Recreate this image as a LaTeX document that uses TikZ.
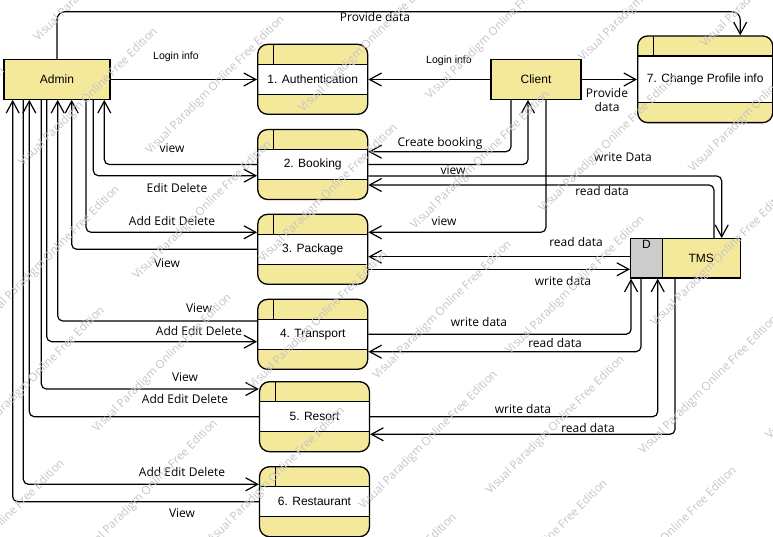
\documentclass[tikz,border=0pt]{standalone}
\usepackage{fontspec}
\setmainfont{Liberation Sans}
\newfontfamily\lblfont{Open Sans}
\usetikzlibrary{positioning,arrows.meta}
\definecolor{vpyellow}{HTML}{F4E99B}
\definecolor{vpgray}{HTML}{CCCCCC}
\definecolor{vpmark}{HTML}{C4C4C4}

\tikzset{
  ent/.style={draw, fill=vpyellow, line width=1.3pt, inner sep=0pt, font=\fontsize{12}{14}\selectfont},
  proc/.style={draw, rounded corners=10pt, fill=vpyellow, line width=1.3pt, inner sep=0pt,
    minimum width=110pt, minimum height=70pt, font=\fontsize{12}{14}\selectfont,
    path picture={
      \fill[white, sharp corners] ([yshift=-20pt]path picture bounding box.north west) rectangle ([yshift=20pt]path picture bounding box.south east);
      \draw[line width=1.3pt, sharp corners] ([yshift=-20pt]path picture bounding box.north west) -- ([yshift=-20pt]path picture bounding box.north east)
        ([yshift=20pt]path picture bounding box.south west) -- ([yshift=20pt]path picture bounding box.south east)
        ([xshift=16pt]path picture bounding box.north west) -- ([xshift=16pt,yshift=-20pt]path picture bounding box.north west);
    }},
  flow/.style={line width=1.2pt, rounded corners=5pt, -{Straight Barb[length=12pt,width=13pt]}},
  lbl/.style={font=\lblfont\fontsize{12}{14}\selectfont, inner sep=1pt},
  smalllbl/.style={font=\fontsize{10.5}{12}\selectfont, inner sep=1pt},
  wmark/.style={rotate=45, anchor=base west, inner sep=0pt, text=vpmark, font=\lblfont\fontsize{11.5}{13}\selectfont}
}

\begin{document}
\begin{tikzpicture}[x=1pt,y=-1pt]
  \useasboundingbox (0,0) rectangle (773,537);
  % externals and store
  \node[ent, minimum width=106pt, minimum height=39.5pt] (admin) at (57,79.5) {Admin};
  \node[ent, minimum width=90pt, minimum height=39.5pt] (client) at (536,79.5) {Client};
  \node[draw, fill=vpgray, line width=1.3pt, inner sep=0pt, minimum width=31.6pt, minimum height=39.3pt] (tmsd) at (646.5,258.4) {};
  \node[ent, minimum width=78pt, minimum height=39.3pt] (tms) at (701.3,258.4) {TMS};
  \node[anchor=north, inner sep=2pt, font=\fontsize{12}{14}\selectfont] (dlbl) at (tmsd.north) {D};
  % processes
  \node[proc] (auth) at (312.7,79.3) {1. Authentication};
  \node[proc] (book) at (312.7,164.5) {2. Booking};
  \node[proc] (pack) at (312.7,249.3) {3. Package};
  \node[proc] (trans) at (312.7,334.3) {4. Transport};
  \node[proc] (resort) at (314.5,416.7) {5. Resort};
  \node[proc] (rest) at (314.5,501.7) {6. Restaurant};
  \node[proc, minimum width=135pt, minimum height=86.7pt] (prof) at (705.2,79.3) {7. Change Profile info};

  % admin / client top flows
  \coordinate (topy) at (400,11.7);
  \draw[flow, rounded corners=8pt] (admin.north) |- (topy) -| ([xshift=35pt]prof.north);
  \draw[flow] (admin.east) -- (admin.east -| auth.west);
  \draw[flow] (client.west) -- (client.west -| auth.east);
  \draw[flow] (client.east) -- (client.east -| prof.west);

  % admin side
  \draw[flow] (book.west) -| ([xshift=47.3pt]admin.south);
  \draw[flow] ([xshift=36.3pt]admin.south) |- ([yshift=-11.2pt]book.west);
  \draw[flow] ([xshift=29pt]admin.south) |- ([yshift=17pt]pack.west);
  \draw[flow] (pack.west) -| ([xshift=14.7pt]admin.south);
  \draw[flow] ([yshift=13.3pt]trans.west) -| ([xshift=0.7pt]admin.south);
  \draw[flow] ([xshift=-10.3pt]admin.south) |- ([yshift=-7.4pt]trans.west);
  \draw[flow] ([xshift=-15.7pt]admin.south) |- ([yshift=27.7pt]resort.west);
  \draw[flow] (resort.west) -| ([xshift=-27.7pt]admin.south);
  \draw[flow] ([xshift=-33.7pt]admin.south) |- ([yshift=17.4pt]rest.west);
  \draw[flow] (rest.west) -| ([xshift=-44.3pt]admin.south);

  % client side
  \draw[flow] ([xshift=-25pt]client.south) |- ([yshift=12.8pt]book.east);
  \draw[flow] (book.east) -| ([xshift=-8pt]client.south);
  \draw[flow] ([xshift=10pt]client.south) |- ([yshift=17pt]pack.east);

  % data store
  \draw[flow] ([yshift=-11.5pt]book.east) -| ([xshift=20.4pt]tms.north);
  \draw[flow] ([xshift=12.7pt]tms.north) |- ([yshift=-20.5pt]book.east);
  \coordinate (pk-rd) at ([yshift=-7.4pt]pack.east);
  \coordinate (pk-wr) at ([yshift=-20pt]pack.east);
  \draw[flow] (pk-rd -| tmsd.west) -- (pk-rd);
  \draw[flow] (pk-wr) -- (pk-wr -| tmsd.west);
  \draw[flow] (trans.east) -| ([xshift=1pt]tmsd.south west);
  \draw[flow] ([xshift=-5.5pt]tmsd.south) |- ([yshift=-17.4pt]trans.east);
  \draw[flow] (resort.east) -| ([xshift=11.2pt]tmsd.south);
  \draw[flow] ([xshift=-26.3pt]tms.south) |- ([yshift=-17.6pt]resort.east);

  % labels
  \node[lbl] (t-prov) at (375,17) {Provide data};
  \node[smalllbl] (t-log1) at (176,57) {Login info};
  \node[smalllbl] (t-log2) at (449,61) {Login info};
  \node[lbl, align=center, font=\lblfont\fontsize{12}{14}\selectfont] (t-prov2) at (607,100) {Provide\\data};
  \node[lbl] (t-bv) at (172,148) {view};
  \node[lbl] (t-bed) at (177,188) {Edit Delete};
  \node[lbl] (t-pa) at (172,221) {Add Edit Delete};
  \node[lbl] (t-pv) at (167,263) {View};
  \node[lbl] (t-tv) at (199,308) {View};
  \node[lbl] (t-ta) at (199,331) {Add Edit Delete};
  \node[lbl] (t-rv) at (185,377) {View};
  \node[lbl] (t-ra) at (185,399) {Add Edit Delete};
  \node[lbl] (t-sa) at (182,472) {Add Edit Delete};
  \node[lbl] (t-sv) at (182,513) {View};
  \node[lbl] (t-cb) at (440,143) {Create booking};
  \node[lbl] (t-cv) at (453,170) {view};
  \node[lbl] (t-bw) at (623,157) {write Data};
  \node[lbl] (t-br) at (602,191) {read data};
  \node[lbl] (t-cpv) at (444,221) {view};
  \node[lbl] (t-pr) at (576,242) {read data};
  \node[lbl] (t-pw) at (563,281) {write data};
  \node[lbl] (t-tw) at (479,322) {write data};
  \node[lbl] (t-tr) at (555,343) {read data};
  \node[lbl] (t-rw) at (523,409) {write data};
  \node[lbl] (t-rr) at (588,428) {read data};

  % watermark
  \begin{scope}
    \clip (0,0) rectangle (773,537);
    \foreach \wx/\wy [count=\i] in {38/42, 23/167, -130/206, 150/155, 303/113, 430/100, 583/62, 705/48,
        543/213, 693/173, 415/230, 263/263, 137/280, -15/325, 377/380, 510/355, 655/327, 253/390,
        97/433, -30/446, -70/599, 83/559, 210/546, 363/510, 490/495, 643/455, 770/440, 473/619,
        602/606, 322/653}
      \node[wmark] (wm\i) at (\wx,\wy) {Visual Paradigm Online Free Edition};
  \end{scope}
\end{tikzpicture}
\end{document}
